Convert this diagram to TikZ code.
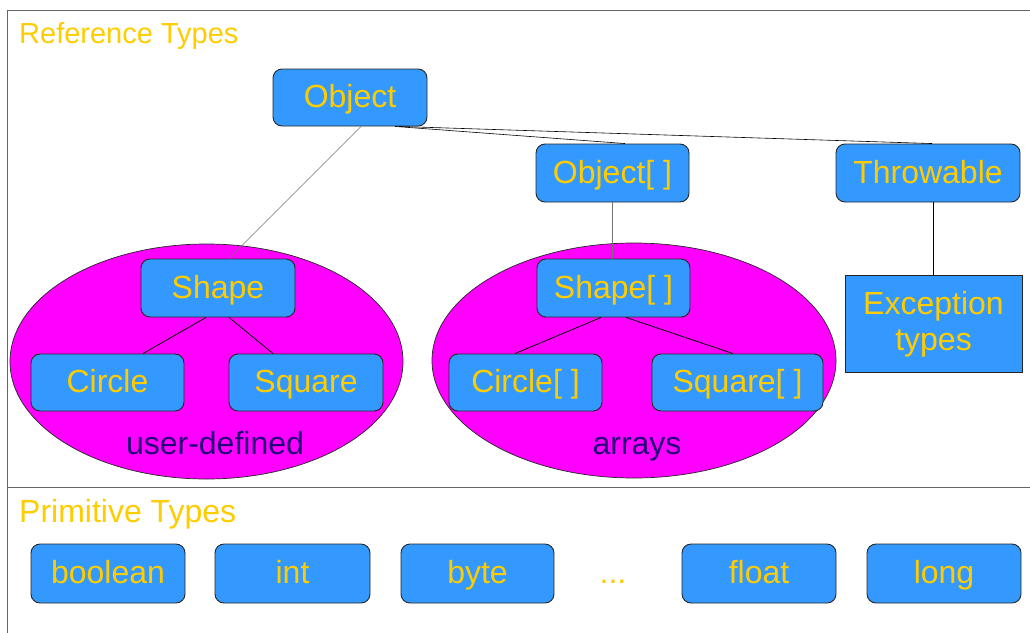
\documentclass[tikz,border=0pt]{standalone}
\usepackage{fontspec}
\setmainfont{Liberation Sans}
\usetikzlibrary{shapes.geometric,calc}
\definecolor{boxblue}{HTML}{3399FF}
\definecolor{gold}{HTML}{FFCC00}
\definecolor{magen}{HTML}{FF00FF}
\definecolor{navy}{RGB}{36,0,120}
\definecolor{framegray}{HTML}{666666}
\tikzset{
  box/.style={draw=black!85, line width=0.9pt, fill=boxblue, rounded corners=9pt,
    text=gold, font=\fontsize{32}{36}\selectfont, inner sep=0pt, minimum height=57pt,
    text height=23pt, text depth=3pt},
  sqbox/.style={draw=black!85, line width=0.9pt, fill=boxblue,
    text=gold, font=\fontsize{32}{36}\selectfont, inner sep=0pt},
  blob/.style={ellipse, draw=black!85, line width=0.7pt, fill=magen, inner sep=0pt},
  blobtext/.style={text=navy, font=\fontsize{32}{36}\selectfont, inner sep=0pt, anchor=base},
  title/.style={text=gold, inner sep=0pt, anchor=base west},
  link/.style={draw=black, line width=0.8pt},
  thinlink/.style={draw=black!55, line width=0.6pt},
  frame/.style={draw=framegray, line width=1pt}
}
\begin{document}
\begin{tikzpicture}[x=1pt,y=-1pt]
\useasboundingbox (0,0) rectangle (1030,632);
% frame
\coordinate (ftl) at (7,10);
\coordinate (ftr) at (1031,10);
\coordinate (fbl) at (7,633);
\coordinate (fsl) at (7,487);
\coordinate (fsr) at (1031,487);
\draw[frame] (fbl) -- (ftl) -- (ftr);
\draw[frame] (fsl) -- (fsr);
% titles
\node[title, font=\fontsize{29}{33}\selectfont] (reft) at (19,43) {Reference Types};
\node[title, font=\fontsize{32}{36}\selectfont] (primt) at (19,522) {Primitive Types};
% ellipses
\node[blob, minimum width=393pt, minimum height=235pt] (ud) at (206.5,361.5) {};
\node[blob, minimum width=404pt, minimum height=235pt] (ar) at (634,360.5) {};
\node[blobtext] (udt) at (215,454) {user-defined};
\node[blobtext] (art) at (637,454) {arrays};
% reference boxes
\node[box, minimum width=154pt] (obj) at (350,97.5) {Object};
\node[box, minimum width=153pt, minimum height=58pt] (objarr) at (612.5,173) {Object[ ]};
\node[box, minimum width=184pt, minimum height=58pt] (throw) at (928,173) {Throwable};
\node[sqbox, minimum width=177pt, minimum height=97pt, align=center] (exc) at (933.5,324) {Exception\\types};
\node[box, minimum width=154pt, minimum height=58pt] (shape) at (218,288) {Shape};
\node[box, minimum width=153pt] (circ) at (107.5,382.5) {Circle};
\node[box, minimum width=154pt] (sq) at (306,382.5) {Square};
\node[box, minimum width=153pt, minimum height=58pt] (shapearr) at (613.5,288) {Shape[ ]};
\node[box, minimum width=153pt] (circarr) at (525.5,382.5) {Circle[ ]};
\node[box, minimum width=171pt] (sqarr) at (737.5,382.5) {Square[ ]};
% primitive boxes
\node[box, minimum width=154pt, minimum height=59pt] (bool) at (108,573.5) {boolean};
\node[box, minimum width=155pt, minimum height=59pt] (int) at (292.5,573.5) {int};
\node[box, minimum width=153pt, minimum height=59pt] (byte) at (477.5,573.5) {byte};
\node[text=gold, font=\fontsize{32}{36}\selectfont, inner sep=0pt, anchor=base] (dots) at (613,583) {...};
\node[box, minimum width=154pt, minimum height=59pt] (flt) at (759,573.5) {float};
\node[box, minimum width=154pt, minimum height=59pt] (lng) at (944,573.5) {long};
% connectors
\draw[thinlink] ([xshift=11pt]obj.south) -- ([xshift=11pt]shape.north);
\draw[link, line width=0.6pt] ([xshift=45pt]obj.south) -- ([xshift=12.5pt]objarr.north);
\draw[link, line width=0.6pt] ([xshift=49pt]obj.south) -- ([xshift=4pt]throw.north);
\draw[thinlink] (objarr.south) -- (objarr.south |- shapearr.north);
\draw[link] (exc.north |- throw.south) -- (exc.north);
\draw[link] ([xshift=-12pt]shape.south) -- ([xshift=35.5pt]circ.north);
\draw[link] ([xshift=11pt]shape.south) -- ([xshift=-33pt]sq.north);
\draw[link] ([xshift=-12.5pt]shapearr.south) -- ([xshift=-10.5pt]circarr.north);
\draw[link] ([xshift=12.5pt]shapearr.south) -- ([xshift=-4.5pt]sqarr.north);
\end{tikzpicture}
\end{document}
